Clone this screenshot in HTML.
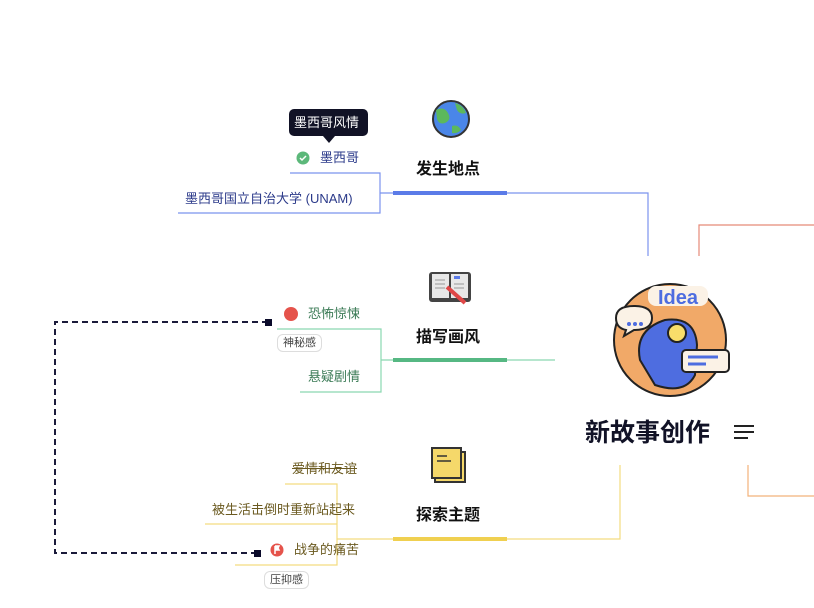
<!DOCTYPE html>
<html><head><meta charset="utf-8"><style>
body{margin:0;width:814px;height:608px;background:#fff;overflow:hidden;position:relative;font-family:"Liberation Sans","Noto Sans CJK SC",sans-serif}
.t{position:absolute;white-space:nowrap;font-size:13px;line-height:16px}
.m{position:absolute;font-size:16px;font-weight:bold;color:#111;line-height:20px}
.tag{position:absolute;font-size:11px;color:#444;border:1px solid #ddd;border-radius:6px;padding:1px 5px;line-height:14px;background:#fff}
</style></head><body>
<svg width="814" height="608" style="position:absolute;left:0;top:0">
<!-- blue -->
<path d="M380 193H648V256" stroke="#7b93ee" fill="none" stroke-width="1.2"/>
<rect x="393" y="191" width="114" height="4" fill="#5b7be8"/>
<path d="M290 173H380V213H178" stroke="#7b93ee" fill="none" stroke-width="1.2"/>
<!-- red / orange -->
<path d="M699 256V225H814" stroke="#e58a78" fill="none" stroke-width="1.2"/>
<path d="M748 465V496H814" stroke="#f2b27a" fill="none" stroke-width="1.2"/>
<!-- green -->
<path d="M381 360H555" stroke="#8ad8b0" fill="none" stroke-width="1.2"/>
<rect x="393" y="358" width="114" height="4" fill="#56b883"/>
<path d="M277 329H381V392H300" stroke="#8ad8b0" fill="none" stroke-width="1.2"/>
<!-- yellow -->
<path d="M337 539H620V465" stroke="#f3dc80" fill="none" stroke-width="1.2"/>
<rect x="393" y="537" width="114" height="4" fill="#f0d050"/>
<path d="M285 484H337V565H235M205 524H337" stroke="#f3dc80" fill="none" stroke-width="1.2"/>
<!-- dashed -->
<path d="M268 322H55V553H258" stroke="#1a1a3a" fill="none" stroke-width="2" stroke-dasharray="6,4"/>
<rect x="265" y="319" width="7" height="7" fill="#0a0a2a"/>
<rect x="254" y="550" width="7" height="7" fill="#0a0a2a"/>
<!-- globe -->
<circle cx="451" cy="119" r="18" fill="#4a86e8" stroke="#333" stroke-width="2"/>
<path d="M436 110q8-4 12 3t-3 10q-6 2-8-4z M455 103q8 2 11 10q-6 2-9-3z M452 126q6-2 9 4q-4 4-9 3z" fill="#5cb85c"/>
<!-- book -->
<rect x="429" y="272" width="42" height="30" rx="3" fill="#444"/>
<rect x="432" y="274" width="17" height="24" fill="#e8e8e8"/><rect x="451" y="274" width="17" height="24" fill="#e8e8e8"/>
<path d="M435 280h10M435 284h10M435 288h10M454 284h10M454 288h10" stroke="#999"/>
<rect x="454" y="276" width="6" height="3" fill="#5b7be8"/>
<path d="M447 287l18 16" stroke="#e04848" stroke-width="4"/>
<!-- note -->
<rect x="435" y="452" width="30" height="30" fill="#f5d86a" stroke="#333" stroke-width="2"/>
<rect x="432" y="448" width="29" height="30" fill="#f5d86a" stroke="#333" stroke-width="2"/>
<path d="M437 456h10M437 461h14" stroke="#333" stroke-width="1.5"/>
<!-- check -->
<circle cx="303" cy="158" r="6.5" fill="#5cb87a"/><path d="M300 158l2 2 4-4" stroke="#fff" stroke-width="1.5" fill="none"/>
<circle cx="291" cy="314" r="7" fill="#e5534b"/>
<circle cx="277" cy="550" r="6.5" fill="#e5534b"/><path d="M275 546v8M275 546h4l-1 2 1 2h-4" stroke="#fff" stroke-width="1.5" fill="#fff"/>
<!-- tooltip -->
<rect x="289" y="109" width="79" height="27" rx="5" fill="#111226"/>
<path d="M323 136l6 7 6-7z" fill="#111226"/>
<!-- central -->
<circle cx="670" cy="340" r="56" fill="#f1a968" stroke="#222" stroke-width="2"/>
<path d="M640 360q-6-30 25-40q30-4 32 25l-2 30q-10 20-40 10z" fill="#4e6de0" stroke="#222" stroke-width="2"/>
<path d="M616 318q0-12 18-12q18 0 18 12q0 12-18 12l-10 6 2-6q-10-2-10-12z" fill="#fbf2e6" stroke="#222" stroke-width="2"/>
<circle cx="629" cy="324" r="2" fill="#4e6de0"/><circle cx="635" cy="324" r="2" fill="#4e6de0"/><circle cx="641" cy="324" r="2" fill="#4e6de0"/>
<circle cx="677" cy="333" r="9" fill="#f8dd6a" stroke="#222" stroke-width="2"/>
<rect x="682" y="350" width="47" height="22" rx="4" fill="#fbf2e6" stroke="#222" stroke-width="2"/>
<path d="M688 357h30M688 364h18" stroke="#4e6de0" stroke-width="3"/>
<rect x="648" y="286" width="60" height="20" rx="8" fill="#fbf2e6"/>
<text x="678" y="304" text-anchor="middle" font-family="Liberation Sans" font-weight="bold" font-size="20" fill="#4e6de0">Idea</text>
<path d="M734 426h20M734 432h20M734 438h14" stroke="#222" stroke-width="2"/>
</svg>
<div class="t" style="left:294px;top:115px;color:#fff;font-size:13px">墨西哥风情</div>
<div class="t" style="left:320px;top:150px;color:#2b3a8a">墨西哥</div>
<div class="t" style="left:185px;top:191px;color:#2b3a8a">墨西哥国立自治大学 (UNAM)</div>
<div class="m" style="left:416px;top:160px">发生地点</div>
<div class="t" style="left:308px;top:306px;color:#3a7a55">恐怖惊悚</div>
<div class="tag" style="left:277px;top:334px">神秘感</div>
<div class="t" style="left:308px;top:369px;color:#3a7a55">悬疑剧情</div>
<div class="m" style="left:416px;top:328px">描写画风</div>
<div class="t" style="left:292px;top:461px;color:#6b5a20;text-decoration:line-through">爱情和友谊</div>
<div class="t" style="left:212px;top:502px;color:#6b5a20">被生活击倒时重新站起来</div>
<div class="t" style="left:294px;top:542px;color:#6b5a20">战争的痛苦</div>
<div class="tag" style="left:264px;top:571px">压抑感</div>
<div class="m" style="left:416px;top:506px">探索主题</div>
<div class="m" style="left:585px;top:418px;font-size:25px;line-height:30px;color:#111226">新故事创作</div>
</body></html>
